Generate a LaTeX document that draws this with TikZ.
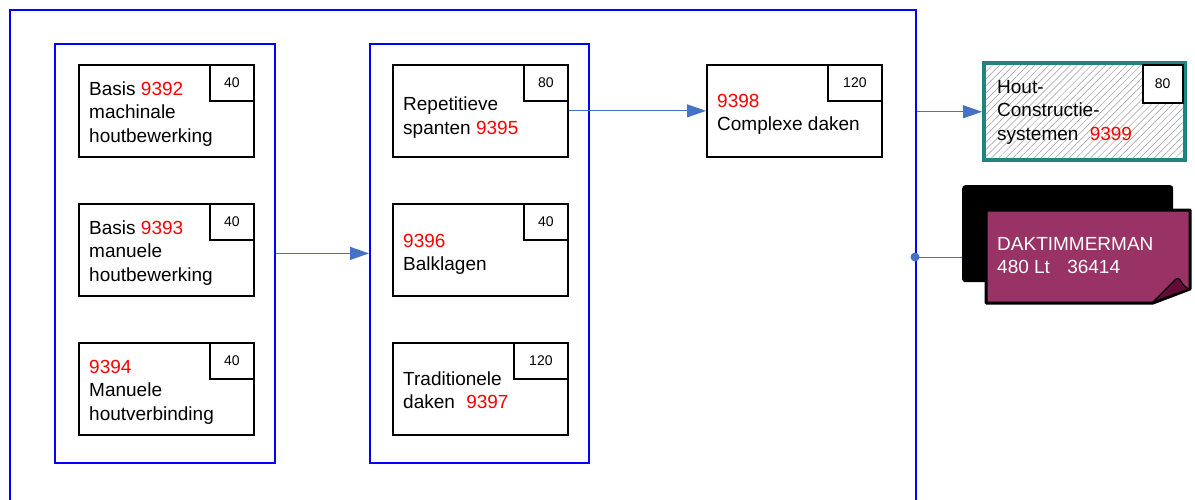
\documentclass[tikz,border=0pt]{standalone}
\usepackage{fontspec}
\setmainfont{Liberation Sans}
\usetikzlibrary{arrows.meta, positioning, patterns.meta}
\definecolor{CodeRed}{RGB}{255,0,0}
\definecolor{LinkBlue}{RGB}{68,114,196}
\definecolor{FrameTeal}{RGB}{32,132,128}
\definecolor{NotePurple}{RGB}{153,51,102}
\definecolor{FoldPurple}{RGB}{98,12,54}
\newcommand{\code}[1]{\textcolor{CodeRed}{#1}}

\begin{document}
\begin{tikzpicture}[x=1pt, y=-1pt,
		frame/.style={draw=blue, line width=1.8pt, anchor=north west, inner sep=0},
		course/.style={draw, line width=1.7pt, minimum width=175, minimum height=92, anchor=north west, inner sep=0},
		badge/.style={draw, fill=white, line width=1.6pt, minimum width=44, minimum height=36, anchor=north east, inner sep=0, font=\fontsize{14}{16}\selectfont},
		txt/.style={anchor=base west, align=left, inner sep=0, font=\fontsize{19}{23.5}\selectfont},
		link/.style={draw=LinkBlue, line width=1pt, -{Triangle[length=19pt, width=13pt]}},
	]
	\useasboundingbox (0,0) rectangle (1195,499);
	% frames
	\node[frame, minimum width=906, minimum height=530] (outer) at (9,9) {};
	\node[frame, minimum width=220, minimum height=419] (g1) at (54,43) {};
	\node[frame, minimum width=219, minimum height=419] (g2) at (369,43) {};
	% first column (base = last line)
	\node[course] (c9392) at (78,64) {};
	\node[badge] (b9392) at (c9392.north east) {40};
	\node[txt] (t9392) at (89,142) {Basis \code{9392}\\machinale\\houtbewerking};
	\node[course] (c9393) at (78,203) {};
	\node[badge] (b9393) at (c9393.north east) {40};
	\node[txt] (t9393) at (89,281) {Basis \code{9393}\\manuele\\houtbewerking};
	\node[course] (c9394) at (78,342) {};
	\node[badge] (b9394) at (c9394.north east) {40};
	\node[txt] (t9394) at (89,420) {\code{9394}\\Manuele\\houtverbinding};
	% second column
	\node[course] (c9395) at (392,64) {};
	\node[badge] (b9395) at (c9395.north east) {80};
	\node[txt] (t9395) at (403,134) {Repetitieve\\spanten \code{9395}};
	\node[course] (c9396) at (392,203) {};
	\node[badge] (b9396) at (c9396.north east) {40};
	\node[txt] (t9396) at (403,270.5) {\code{9396}\\Balklagen};
	\node[course] (c9397) at (392,342) {};
	\node[badge, minimum width=54] (b9397) at (c9397.north east) {120};
	\node[txt] (t9397) at (403,408.5) {Traditionele\\daken\hspace{6pt} \code{9397}};
	% third column
	\node[course] (c9398) at (706,64) {};
	\node[badge, minimum width=54] (b9398) at (c9398.north east) {120};
	\node[txt] (t9398) at (717,130.5) {\code{9398}\\Complexe daken};
	% outside
	\node[draw=FrameTeal, line width=4pt, pattern={Lines[angle=45, distance=5pt, line width=0.5pt]}, pattern color=gray!80,
		minimum width=201, minimum height=97, anchor=north west, inner sep=0] (c9399) at (984,63) {};
	\node[badge, minimum width=40, minimum height=38] (b9399) at ([xshift=-2pt, yshift=-1pt]c9399.north east) {80};
	\node[txt] (t9399) at (997,140) {Hout-\\Constructie-\\systemen\hspace{6pt} \code{9399}};
	\coordinate (tap) at (915,257);
	\draw[LinkBlue, line width=1pt] (tap) -- (962,257);
	\node[fill=black, rounded corners=3pt, minimum width=211, minimum height=97, anchor=north west, inner sep=0] (dakback) at (962,185) {};
	\filldraw[fill=NotePurple, draw=black, line width=3pt, line join=round] (986,210) -- (1190,210) -- (1190,289) -- (1153,303) -- (986,303) -- cycle;
	\filldraw[fill=FoldPurple, draw=black, line width=1.2pt, line join=round] (1153,302) -- (1176,279) .. controls (1180,275) and (1181,286) .. (1189,289) -- cycle;
	\node[txt, text=white] (dak) at (997,273.5) {DAKTIMMERMAN\\480 Lt\hspace{12pt} 36414};
	\fill[LinkBlue] (tap) circle (4.5pt);
	% connectors
	\draw[link] (g1.east) -- (g2.west);
	\draw[link] (c9395.east) -- (c9398.west);
	\draw[link] (outer.east |- c9399.west) -- ([xshift=-2pt]c9399.west);
\end{tikzpicture}
\end{document}
